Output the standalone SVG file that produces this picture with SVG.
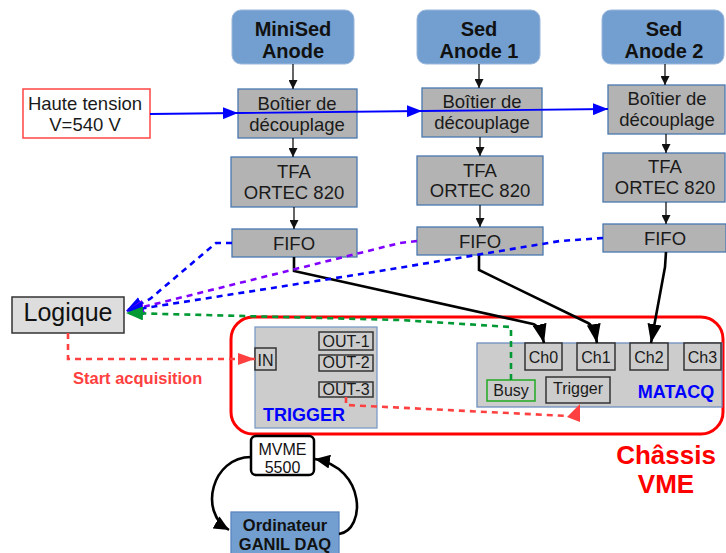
<svg xmlns="http://www.w3.org/2000/svg" width="726" height="553" viewBox="0 0 726 553">
<style>
text{font-family:"Liberation Sans",Arial,sans-serif;text-anchor:middle}
.anode{fill:#729fcf;stroke:#9ab7dc;stroke-width:1}
.anode-t{font-size:20px;font-weight:bold;fill:#111}
.gbox{fill:#b3b3b3;stroke:#4a78b0;stroke-width:1.3}
.gt{font-size:18.5px;fill:#1a1a1a}
.port{fill:#cccccc;stroke:#333;stroke-width:1.5}
.pt{font-size:16px;fill:#1a1a1a}
.flow{stroke:#111;stroke-width:1.3;fill:none}
.hv{stroke:#0000ff;stroke-width:1.8;fill:none}
.sig{stroke:#000;stroke-width:2.6;fill:none}
.dblue{stroke:#0000ff;stroke-width:2.6;fill:none;stroke-dasharray:6 5}
.dpurple{stroke:#7f00ff;stroke-width:2.6;fill:none;stroke-dasharray:6 5}
.dgreen{stroke:#009933;stroke-width:2.6;fill:none;stroke-dasharray:6 5}
.dred{stroke:#ff4040;stroke-width:2.6;fill:none;stroke-dasharray:6 5}
.loop{stroke:#000;stroke-width:2.6;fill:none}
</style>
<defs>
<marker id="as" markerWidth="10" markerHeight="9" refX="9" refY="4.5" orient="auto" markerUnits="userSpaceOnUse"><path d="M0,0 L9,4.5 L0,9 z" fill="#111"/></marker>
<marker id="ahv" markerWidth="16" markerHeight="12" refX="15" refY="6" orient="auto" markerUnits="userSpaceOnUse"><path d="M0,0 L15,6 L0,12 z" fill="#0000ff"/></marker>
<marker id="ak" markerWidth="20" markerHeight="14" refX="19" refY="7" orient="auto" markerUnits="userSpaceOnUse"><path d="M0,0 L19,7 L0,14 z" fill="#000"/></marker>
<marker id="ab" markerWidth="18" markerHeight="14" refX="17" refY="7" orient="auto" markerUnits="userSpaceOnUse"><path d="M0,0 L17,7 L0,14 z" fill="#0000ff"/></marker>
<marker id="ap" markerWidth="18" markerHeight="14" refX="17" refY="7" orient="auto" markerUnits="userSpaceOnUse"><path d="M0,0 L17,7 L0,14 z" fill="#7f00ff"/></marker>
<marker id="ag" markerWidth="18" markerHeight="14" refX="17" refY="7" orient="auto" markerUnits="userSpaceOnUse"><path d="M0,0 L17,7 L0,14 z" fill="#009933"/></marker>
<marker id="ar" markerWidth="18" markerHeight="12" refX="17" refY="6" orient="auto" markerUnits="userSpaceOnUse"><path d="M0,0 L17,6 L0,12 z" fill="#ff4040"/></marker>
<marker id="al" markerWidth="16" markerHeight="14" refX="15" refY="7" orient="auto" markerUnits="userSpaceOnUse"><path d="M0,0 L15,7 L0,14 z" fill="#000"/></marker>
</defs>

<g id="chassis">
<rect x="231" y="317" width="492" height="117" rx="22" fill="none" stroke="#ff0000" stroke-width="3"/>
<text x="666" y="464" style="font-size:26px;font-weight:bold;fill:#ff0000">Châssis</text>
<text x="666" y="493" style="font-size:26px;font-weight:bold;fill:#ff0000">VME</text>
</g>

<g id="anode0"><rect class="anode" x="232" y="10" width="122" height="54" rx="9"/><text class="anode-t" x="293" y="36">MiniSed</text><text class="anode-t" x="293" y="58">Anode</text></g>
<g id="anode1"><rect class="anode" x="417" y="10" width="123" height="54" rx="9"/><text class="anode-t" x="479" y="36">Sed</text><text class="anode-t" x="479" y="58">Anode 1</text></g>
<g id="anode2"><rect class="anode" x="602" y="10" width="122" height="54" rx="9"/><text class="anode-t" x="664" y="36">Sed</text><text class="anode-t" x="664" y="58">Anode 2</text></g>

<g id="boitier0"><rect class="gbox" x="238" y="89" width="119" height="49"/><text class="gt" x="297" y="110">Boîtier de</text><text class="gt" x="297" y="131">découplage</text></g>
<g id="boitier1"><rect class="gbox" x="422" y="88" width="120" height="49"/><text class="gt" x="482" y="108">Boîtier de</text><text class="gt" x="482" y="129">découplage</text></g>
<g id="boitier2"><rect class="gbox" x="608" y="85" width="117" height="49"/><text class="gt" x="667" y="105">Boîtier de</text><text class="gt" x="667" y="126">découplage</text></g>

<g id="tfa0"><rect class="gbox" x="231" y="157" width="126" height="50"/><text class="gt" x="294" y="178">TFA</text><text class="gt" x="294" y="199">ORTEC 820</text></g>
<g id="tfa1"><rect class="gbox" x="417" y="156" width="126" height="49"/><text class="gt" x="480" y="177">TFA</text><text class="gt" x="480" y="197">ORTEC 820</text></g>
<g id="tfa2"><rect class="gbox" x="603" y="153" width="122" height="49"/><text class="gt" x="665" y="173">TFA</text><text class="gt" x="665" y="194">ORTEC 820</text></g>

<g id="fifo0"><rect class="gbox" x="232" y="229" width="125" height="28"/><text class="gt" x="294" y="250">FIFO</text></g>
<g id="fifo1"><rect class="gbox" x="417" y="227" width="126" height="28"/><text class="gt" x="480" y="248">FIFO</text></g>
<g id="fifo2"><rect class="gbox" x="603" y="224" width="123" height="28"/><text class="gt" x="665" y="245">FIFO</text></g>

<g id="hv"><rect x="23" y="89" width="127" height="49" fill="#fff" stroke="#ff4444" stroke-width="1.5"/><text class="gt" x="85" y="110">Haute tension</text><text class="gt" x="85" y="131">V=540 V</text></g>

<g id="logique"><rect x="12" y="297" width="112" height="36" fill="#dddddd" stroke="#333" stroke-width="1.5"/><text x="68" y="321" style="font-size:25px;fill:#111">Logique</text></g>

<g id="trigger">
<rect x="255" y="327" width="122" height="101" fill="#cccccc" stroke="#7a9cc6" stroke-width="1.3"/>
<rect class="port" x="255" y="348" width="21" height="22"/><text class="pt" x="265.5" y="366">IN</text>
<rect class="port" x="319" y="332" width="54" height="18"/><text class="pt" x="346" y="347">OUT-1</text>
<rect class="port" x="319" y="355" width="54" height="16"/><text class="pt" x="346" y="368">OUT-2</text>
<rect class="port" x="319" y="382" width="54" height="15"/><text class="pt" x="346" y="395">OUT-3</text>
<text x="304" y="421" style="font-size:18px;font-weight:bold;fill:#0000ff">TRIGGER</text>
</g>

<g id="matacq">
<rect x="477" y="343" width="245" height="64" fill="#cccccc" stroke="#6f8fbf" stroke-width="1.3"/>
<rect class="port" x="525" y="343" width="37" height="27"/><text class="pt" x="543.5" y="363">Ch0</text>
<rect class="port" x="577" y="343" width="38" height="27"/><text class="pt" x="596" y="363">Ch1</text>
<rect class="port" x="630" y="343" width="38" height="27"/><text class="pt" x="649" y="363">Ch2</text>
<rect class="port" x="684" y="343" width="37" height="27"/><text class="pt" x="702.5" y="363">Ch3</text>
<rect x="487" y="380" width="48" height="21" fill="#cccccc" stroke="#22aa22" stroke-width="1.5"/><text class="pt" x="511" y="396">Busy</text>
<rect class="port" x="546" y="377" width="64" height="26"/><text class="pt" x="578" y="394">Trigger</text>
<text x="676" y="398" style="font-size:18px;font-weight:bold;fill:#0000ff">MATACQ</text>
</g>

<g id="mvme"><rect x="251" y="436" width="63" height="39" rx="5" fill="#fff" stroke="#000" stroke-width="2.5"/><text x="282.5" y="455" style="font-size:16px;fill:#111">MVME</text><text x="282.5" y="473" style="font-size:16px;fill:#111">5500</text></g>

<g id="ordinateur"><rect x="231" y="512" width="108" height="45" fill="#729fcf" stroke="#5a86c0" stroke-width="1.3"/><text x="285" y="531" style="font-size:16.5px;font-weight:bold;fill:#111">Ordinateur</text><text x="285" y="550" style="font-size:16.5px;font-weight:bold;fill:#111">GANIL DAQ</text></g>

<g id="connectors">
<path class="flow" d="M293,64 L293,89" marker-end="url(#as)"/>
<path class="flow" d="M293,138 L293,157" marker-end="url(#as)"/>
<path class="flow" d="M294,207 L294,229" marker-end="url(#as)"/>
<path class="flow" d="M479,64 L479,88" marker-end="url(#as)"/>
<path class="flow" d="M480,137 L480,156" marker-end="url(#as)"/>
<path class="flow" d="M480,205 L480,227" marker-end="url(#as)"/>
<path class="flow" d="M665,64 L665,85" marker-end="url(#as)"/>
<path class="flow" d="M666,134 L666,153" marker-end="url(#as)"/>
<path class="flow" d="M666,202 L666,224" marker-end="url(#as)"/>

<path class="hv" d="M150,114 L238,113" marker-end="url(#ahv)"/>
<path class="hv" d="M238,113 L422,111" marker-end="url(#ahv)"/>
<path class="hv" d="M422,111 L608,109" marker-end="url(#ahv)"/>

<path class="sig" d="M294,257 L294,271 L533,324 Q540,326 544,343" marker-end="url(#ak)"/>
<path class="sig" d="M479,255 L479,270 L588,323 Q594,326 597,343" marker-end="url(#ak)"/>
<path class="sig" d="M666,252 L665,267 L651,343" marker-end="url(#ak)"/>

<path class="dblue" d="M232,243 L216,243 L150,299 L126,311" marker-end="url(#ab)"/>
<path class="dpurple" d="M417,241 L400,243 L127,311" marker-end="url(#ap)"/>
<path class="dblue" d="M603,238 L560,241 L380,271 L126,311" marker-end="url(#ab)"/>
<path class="dgreen" d="M511,380 L511,327 L400,320 L126,313" marker-end="url(#ag)"/>

<path class="dred" d="M68,333 L68,359 L255,359" marker-end="url(#ar)"/>
<path class="dred" d="M346,397 L346,405 L568,416"/>
<polygon points="580,404 580,422 567,417" fill="#ff4040"/>

<path class="loop" d="M251,457 C212,457 198,512 229,530" marker-end="url(#al)"/>
<path class="loop" d="M339,534 C366,530 366,468 315,459" marker-end="url(#al)"/>
</g>
<text x="73" y="384" style="font-size:16.5px;font-weight:bold;fill:#ff4040;text-anchor:start">Start acquisition</text>
</svg>
